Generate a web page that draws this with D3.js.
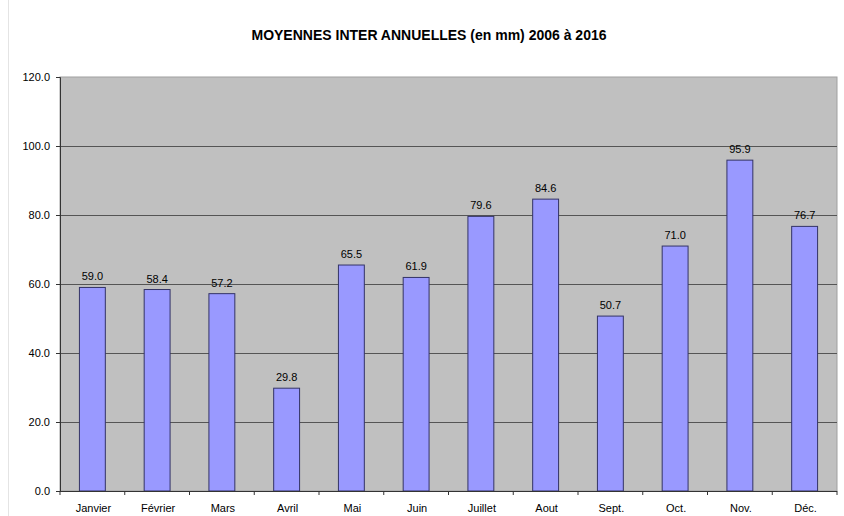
<!DOCTYPE html>
<html><head><meta charset="utf-8">
<script src="https://cdn.jsdelivr.net/npm/d3@7"></script>
<style>body{margin:0;background:#fff}svg{display:block}text{font-family:"Liberation Sans",Arial,sans-serif;fill:#000}</style>
</head><body>
<script>
const months = ["Janvier","Février","Mars","Avril","Mai","Juin","Juillet","Aout","Sept.","Oct.","Nov.","Déc."];
const values = [59.0,58.4,57.2,29.8,65.5,61.9,79.6,84.6,50.7,71.0,95.9,76.7];
const yTicks = [0,20,40,60,80,100,120];
const title = "MOYENNES INTER ANNUELLES (en mm) 2006 à 2016";

const W=844,H=516;
const svg=d3.select("body").append("svg").attr("width",W).attr("height",H);
const L=60,R=837,T=77,B=491;
svg.append("line").attr("x1",8.5).attr("x2",8.5).attr("y1",0).attr("y2",H).attr("stroke","#e4e4e4");
const x=d3.scaleBand().domain(months).range([L,R]).paddingInner(0.6).paddingOuter(0.3);
const xb=d3.scaleBand().domain(months).range([L,R]);
const y=d3.scaleLinear().domain([0,120]).range([B,T]);

svg.append("rect").attr("x",L).attr("y",T).attr("width",R-L).attr("height",B-T).attr("fill","#c0c0c0").attr("stroke","#a0a0a0");
svg.append("g").selectAll("line").data(yTicks.slice(1,-1)).join("line")
  .attr("x1",L).attr("x2",R).attr("y1",d=>Math.round(y(d))+0.5).attr("y2",d=>Math.round(y(d))+0.5)
  .attr("stroke","#555").attr("stroke-width",1);

svg.append("g").selectAll("rect").data(values).join("rect")
  .attr("x",(d,i)=>x(months[i])).attr("width",x.bandwidth())
  .attr("y",d=>y(d)).attr("height",d=>B-y(d))
  .attr("fill","#9999ff").attr("stroke","#333366").attr("stroke-width",1);

svg.append("g").selectAll("text").data(values).join("text")
  .attr("x",(d,i)=>x(months[i])+x.bandwidth()/2).attr("y",d=>y(d)-7)
  .attr("text-anchor","middle").attr("font-size",11).text(d=>d.toFixed(1));

const ya=d3.axisLeft(y).tickValues(yTicks).tickFormat(d=>d.toFixed(1)).tickSize(4).tickPadding(6);
const gy=svg.append("g").attr("transform",`translate(${L},0)`).call(ya);
gy.selectAll("text").attr("font-size",11).attr("font-family","Liberation Sans, Arial, sans-serif");
gy.select(".domain").attr("stroke","#333");
gy.selectAll(".tick line").attr("stroke","#333");

svg.append("line").attr("x1",L).attr("x2",R).attr("y1",B+0.5).attr("y2",B+0.5).attr("stroke","#333");
svg.append("g").selectAll("line").data(months.concat(["end"])).join("line")
  .attr("x1",(d,i)=>L+i*xb.step()).attr("x2",(d,i)=>L+i*xb.step())
  .attr("y1",B).attr("y2",B+4).attr("stroke","#333");
svg.append("g").selectAll("text").data(months).join("text")
  .attr("x",d=>xb(d)+xb.bandwidth()/2+1).attr("y",B+21)
  .attr("text-anchor","middle").attr("font-size",11).text(d=>d);

svg.append("text").attr("x",429).attr("y",40).attr("text-anchor","middle")
  .attr("font-size",14).attr("font-weight","bold").text(title);
</script>
</body></html>
